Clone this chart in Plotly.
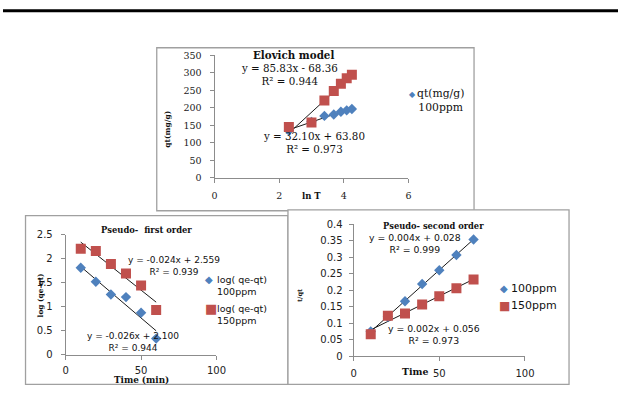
import numpy as np
import plotly.graph_objects as go

W, H = 628, 405

# Elovich model: qt against ln t
ln_t = [2.30, 3.00, 3.40, 3.69, 3.91, 4.09, 4.25]
qt_100 = [135, 160, 177, 181, 189, 193, 197]
qt_150 = [145, 158, 221, 248, 269, 285, 295]

# Pseudo-first order: log(qe - qt) against time
t_first = [10, 20, 30, 40, 50, 60]
log_100 = [1.81, 1.52, 1.255, 1.20, 0.875, 0.335]
log_150 = [2.21, 2.16, 1.89, 1.69, 1.44, 0.93]

# Pseudo-second order: t/qt against time
t_second = [10, 20, 30, 40, 50, 60, 70]
tq_100 = [0.075, 0.12, 0.167, 0.219, 0.261, 0.307, 0.354]
tq_150 = [0.067, 0.123, 0.130, 0.157, 0.182, 0.206, 0.233]

# Fitted equations as printed on each panel (equation line, R² line)
eq_elovich_150 = ["y = 85.83x - 68.36", "R² = 0.944"]
eq_elovich_100 = ["y = 32.10x + 63.80", "R² = 0.973"]
eq_first_150 = ["y = -0.024x + 2.559", "R² = 0.939"]
eq_first_100 = ["y = -0.026x + 2.100", "R² = 0.944"]
eq_second_100 = ["y = 0.004x + 0.028", "R² = 0.999"]
eq_second_150 = ["y = 0.002x + 0.056", "R² = 0.973"]

BLUE = "#4F81BD"
RED = "#C0504D"
AXIS = "#8C8C8C"
FRAME = "#A0A0A0"
SERIF = "DejaVu Serif"
SANS = "DejaVu Sans"


def px(x):
    return x / W


def py(y):
    return 1 - y / H


def trend(x, y):
    k, b = np.polyfit(x, y, 1)
    xs = np.array([min(x), max(x)], dtype=float)
    return xs, k * xs + b


fig = go.Figure()


def add_series(x, y, xa, ya, name, color, symbol, size):
    fig.add_trace(go.Scatter(
        x=x, y=y, mode="markers", name=name, xaxis=xa, yaxis=ya,
        marker=dict(color=color, symbol=symbol, size=size, line=dict(width=0))))


def add_trend(x, y, xa, ya):
    xs, ys = trend(x, y)
    fig.add_trace(go.Scatter(
        x=xs, y=ys, mode="lines", xaxis=xa, yaxis=ya,
        line=dict(color="#1a1a1a", width=1), hoverinfo="skip"))


# Elovich panel
add_trend(ln_t, qt_150, "x", "y")
add_trend(ln_t, qt_100, "x", "y")
add_series(ln_t, qt_100, "x", "y", "100ppm", BLUE, "diamond", 8)
add_series(ln_t, qt_150, "x", "y", "150ppm", RED, "square", 10)

# Pseudo-first order panel
add_trend(t_first, log_150, "x2", "y2")
add_trend(t_first, log_100, "x2", "y2")
add_series(t_first, log_100, "x2", "y2", "100ppm", BLUE, "diamond", 8)
add_series(t_first, log_150, "x2", "y2", "150ppm", RED, "square", 10)

# Pseudo-second order panel
add_trend(t_second, tq_100, "x3", "y3")
add_trend(t_second, tq_150, "x3", "y3")
add_series(t_second, tq_100, "x3", "y3", "100ppm", BLUE, "diamond", 8)
add_series(t_second, tq_150, "x3", "y3", "150ppm", RED, "square", 10)


def axis(domain, rng, dtick, anchor, font, standoff):
    return dict(domain=domain, range=rng, dtick=dtick, tick0=0, anchor=anchor,
                showgrid=False, zeroline=False, showline=True, linecolor=AXIS,
                linewidth=1, ticks="outside", ticklen=4, tickcolor=AXIS,
                tickfont=font, ticklabelstandoff=standoff, fixedrange=True)


serif_tick = dict(family=SERIF, size=9.5, color="#222")
sans_tick = dict(family=SANS, size=10, color="#222")

fig.update_layout(
    width=W, height=H, margin=dict(l=0, r=0, t=0, b=0), showlegend=False,
    paper_bgcolor="white", plot_bgcolor="white",
    xaxis=axis([px(216), px(414)], [0, 6], 2, "y", serif_tick, 5),
    yaxis=axis([py(177), py(51)], [0, 350], 50, "x", serif_tick, 6),
    xaxis2=axis([px(64), px(218)], [0, 100], 50, "y2", sans_tick, 2),
    yaxis2=axis([py(359.3), py(235.7)], [0, 2.5], 0.5, "x2", sans_tick, 6),
    xaxis3=axis([px(358), px(533)], [0, 100], 50, "y3", sans_tick, 4),
    yaxis3=axis([py(361), py(225)], [0, 0.4], 0.05, "x3", sans_tick, 4),
)

shapes = [
    # rule across the top of the page
    dict(type="line", xref="paper", yref="paper", x0=0, x1=1, y0=py(5), y1=py(5),
         line=dict(color="black", width=3)),
]
for x0, y0, x1, y1 in [(157, 43, 481, 211), (23, 216, 291, 390), (291, 210, 578, 390)]:
    shapes.append(dict(type="rect", xref="paper", yref="paper", layer="below",
                       x0=px(x0), x1=px(x1), y0=py(y1), y1=py(y0),
                       line=dict(color=FRAME, width=1.3), fillcolor="white"))
fig.update_layout(shapes=shapes)


def note(x, y, text, family, size, angle=0, bold=False, anchor="center",
         color="#111", align="center"):
    fig.add_annotation(x=px(x), y=py(y), xref="paper", yref="paper", showarrow=False,
                       text=f"<b>{text}</b>" if bold else text, textangle=angle,
                       xanchor=anchor, yanchor="middle", align=align,
                       borderpad=0, font=dict(family=family, size=size, color=color))


def equation(x, y, lines, family, size):
    note(x, y, "<br>".join(lines), family, size)


# panel titles and axis titles
note(297, 51, "Elovich model", SERIF, 10.3, bold=True)
note(315, 196, "ln T", SERIF, 8.5, bold=True)
note(168, 127, "qt(mg/g)", SERIF, 7.5, angle=-90, bold=True)

note(147, 231, "Pseudo-&nbsp; first order", SERIF, 8.4, bold=True)
note(141, 385, "Time (min)", SERIF, 8.8, bold=True)
note(38, 298, "log (qe-qt)", SERIF, 7.4, angle=-90, bold=True)

note(440, 227, "Pseudo- second order", SERIF, 8.3, bold=True)
note(421, 377, "Time", SERIF, 9.4, bold=True)
note(303, 298, "t/qt", SERIF, 6.5, angle=-90, bold=True)

# fitted equations (centre of the two-line block)
equation(293, 71, eq_elovich_150, SERIF, 10.3)
equation(318, 141, eq_elovich_100, SERIF, 10.3)
equation(175, 267.5, eq_first_150, SANS, 9)
equation(133, 346, eq_first_100, SANS, 9)
equation(421, 245, eq_second_100, SANS, 9.3)
equation(440, 338.5, eq_second_150, SANS, 9.3)

# legends: coloured key glyph followed by the series label
note(418.5, 91, "◆", SANS, 8, color=BLUE)
note(447, 97.5, "qt(mg/g)<br>100ppm", SERIF, 10.8)

note(210, 282, "◆", SANS, 10, color=BLUE)
note(218, 288, "log( qe-qt)<br>100ppm", SANS, 9.5, anchor="left", align="left")
note(212, 312, "■", SANS, 13, color=RED)
note(218, 318, "log( qe-qt)<br>150ppm", SANS, 9.5, anchor="left", align="left")

note(512, 291, "◆", SANS, 10, color=BLUE)
note(518, 291, "100ppm", SANS, 11, anchor="left")
note(512, 309, "■", SANS, 12, color=RED)
note(518, 309, "150ppm", SANS, 11, anchor="left")

fig.write_html("out.html")
